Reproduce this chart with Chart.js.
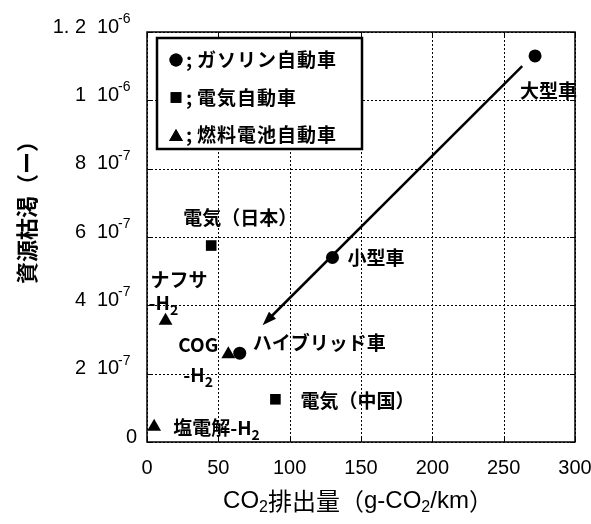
<!DOCTYPE html>
<html>
<head>
<meta charset="utf-8">
<script src="https://cdn.jsdelivr.net/npm/chart.js@4.4.1/dist/chart.umd.min.js"></script>
<style>
  html, body { margin: 0; padding: 0; background: #fff; }
  canvas { display: block; }
</style>
</head>
<body>
<canvas id="chart" width="591" height="524"></canvas>
<script>
// データ (CO2: g-CO2/km, 資源枯渇: 無次元)
const gasLabels = ['大型車', '小型車', 'ハイブリッド車'];
const gasCO2 = [272, 130, 65];
const gasDepletion = [1.13e-6, 5.4e-7, 2.6e-7];

const evLabels = ['電気（日本）', '電気（中国）'];
const evCO2 = [45, 90];
const evDepletion = [5.75e-7, 1.25e-7];

const fcLabels = ['ナフサ\n-H_2', 'COG\n-H_2', '塩電解-H_2'];
const fcCO2 = [13, 57, 5];
const fcDepletion = [3.55e-7, 2.57e-7, 0.45e-7];

const xTicks = [0, 50, 100, 150, 200, 250, 300];
const yTicks = [0, 2e-7, 4e-7, 6e-7, 8e-7, 1e-6, 1.2e-6];

const arrowFrom = [263, 1.10e-6];
const arrowTo = [81, 3.42e-7];

const legendLabels = ['ガソリン自動車', '電気自動車', '燃料電池自動車'];
const legendStyles = ['circle', 'rect', 'triangle'];

const JP = "'Noto Sans CJK JP', 'Liberation Sans', sans-serif";
const LAT = "'Liberation Sans', Arial, sans-serif";
const NUM = "'Liberation Sans Narrow', 'Liberation Sans', Arial, sans-serif";

// ラベルの位置 (点からのずれ, px)
const labelOffsets = {
    gas: [[-15, 35], [15, 0], [13, -10]],
    ev: [[-28, -28], [25, 1]],
    fc: [[-15, -41], [-50, -9], [19, 1]]
};

const toPoints = (xs, ys) => xs.map((x, i) => ({ x: x, y: ys[i] }));

// "H_2" の "_2" を下付きで描く
const drawRich = (ctx, str, x, y, size) => {
    const parts = str.split(/_(\d)/);
    let cx = x;
    parts.forEach((p, i) => {
        if (!p) return;
        const sub = i % 2 === 1;
        ctx.font = sub ? `bold ${Math.round(size * 0.72)}px ${JP}` : `bold ${size}px ${JP}`;
        ctx.fillText(p, cx, sub ? y + size * 0.35 : y);
        cx += ctx.measureText(p).width;
    });
};

const overlayPlugin = {
    id: 'overlay',
    beforeDatasetsDraw(chart) {
        // 点線のグリッド
        const { ctx, chartArea: a, scales } = chart;
        ctx.save();
        ctx.strokeStyle = '#000';
        ctx.lineWidth = 1;
        ctx.setLineDash([2, 2]);
        ctx.beginPath();
        xTicks.forEach(v => {
            const px = Math.round(scales.x.getPixelForValue(v)) + 0.5;
            ctx.moveTo(px, a.top); ctx.lineTo(px, a.bottom);
        });
        yTicks.forEach(v => {
            const py = Math.round(scales.y.getPixelForValue(v)) + 0.5;
            ctx.moveTo(a.left, py); ctx.lineTo(a.right, py);
        });
        ctx.stroke();
        ctx.restore();
    },
    afterDatasetsDraw(chart) {
        const { ctx, chartArea: a, scales } = chart;
        const xs = scales.x, ys = scales.y;
        ctx.save();

        // 枠と内向きの目盛り
        ctx.strokeStyle = '#000';
        ctx.lineWidth = 1.5;
        ctx.strokeRect(a.left, a.top, a.right - a.left, a.bottom - a.top);
        ctx.lineWidth = 1;
        ctx.beginPath();
        xTicks.forEach(v => {
            const px = Math.round(xs.getPixelForValue(v)) + 0.5;
            ctx.moveTo(px, a.bottom); ctx.lineTo(px, a.bottom - 5);
            ctx.moveTo(px, a.top); ctx.lineTo(px, a.top + 5);
        });
        yTicks.forEach(v => {
            const py = Math.round(ys.getPixelForValue(v)) + 0.5;
            ctx.moveTo(a.left, py); ctx.lineTo(a.left + 5, py);
            ctx.moveTo(a.right, py); ctx.lineTo(a.right - 5, py);
        });
        ctx.stroke();

        // 矢印
        const x1 = xs.getPixelForValue(arrowFrom[0]), y1 = ys.getPixelForValue(arrowFrom[1]);
        const x2 = xs.getPixelForValue(arrowTo[0]), y2 = ys.getPixelForValue(arrowTo[1]);
        const ang = Math.atan2(y2 - y1, x2 - x1);
        ctx.lineWidth = 2.5;
        ctx.beginPath();
        ctx.moveTo(x1, y1);
        ctx.lineTo(x2 - 8 * Math.cos(ang), y2 - 8 * Math.sin(ang));
        ctx.stroke();
        ctx.fillStyle = '#000';
        ctx.beginPath();
        ctx.moveTo(x2, y2);
        ctx.lineTo(x2 - 14 * Math.cos(ang) + 5 * Math.sin(ang), y2 - 14 * Math.sin(ang) - 5 * Math.cos(ang));
        ctx.lineTo(x2 - 14 * Math.cos(ang) - 5 * Math.sin(ang), y2 - 14 * Math.sin(ang) + 5 * Math.cos(ang));
        ctx.closePath();
        ctx.fill();

        // 点のラベル
        ctx.textBaseline = 'middle';
        ctx.textAlign = 'left';
        const labelSet = (labels, xv, yv, offs) => {
            labels.forEach((txt, i) => {
                const px = xs.getPixelForValue(xv[i]);
                const py = ys.getPixelForValue(yv[i]);
                txt.split('\n').forEach((line, j) => {
                    let dx = offs[i][0];
                    if (j > 0 && txt.startsWith('ナフサ')) dx -= 2;
                    if (j > 0 && txt.startsWith('COG')) dx += 5;
                    drawRich(ctx, line, px + dx, py + offs[i][1] + j * (txt.startsWith('COG') ? 30 : 23), 19);
                });
            });
        };
        labelSet(gasLabels, gasCO2, gasDepletion, labelOffsets.gas);
        labelSet(evLabels, evCO2, evDepletion, labelOffsets.ev);
        labelSet(fcLabels, fcCO2, fcDepletion, labelOffsets.fc);

        // 凡例
        const lx = a.left + 10, ly = a.top + 6, lw = 205, lh = 111;
        ctx.fillStyle = '#fff';
        ctx.fillRect(lx, ly, lw, lh);
        ctx.lineWidth = 2.5;
        ctx.strokeRect(lx, ly, lw, lh);
        ctx.fillStyle = '#000';
        legendLabels.forEach((txt, i) => {
            const cy = ly + 22 + i * 37.5;
            const st = legendStyles[i];
            Chart.helpers.drawPoint(ctx, {
                pointStyle: st, rotation: 0,
                radius: st === 'circle' ? 6.5 : (st === 'rect' ? 7.5 : 8), borderWidth: 0
            }, lx + 19, cy + (st === 'triangle' ? 2 : 0));
            ctx.fill();
            ctx.font = `bold 19px ${JP}`;
            ctx.fillText(';', lx + 29, cy);
            ctx.letterSpacing = '1px';
            ctx.fillText(txt, lx + 40, cy);
            ctx.letterSpacing = '0px';
        });

        // y 軸の目盛りラベル (a 10^n)
        yTicks.forEach(v => {
            const py = ys.getPixelForValue(v) - 5;
            ctx.font = `20px ${NUM}`;
            if (v === 0) {
                ctx.textAlign = 'right';
                ctx.fillText('0', 137, py);
                return;
            }
            const exp = Math.floor(Math.log10(v) + 1e-6);
            const mant = +(v / Math.pow(10, exp)).toPrecision(3);
            ctx.textAlign = 'right';
            ctx.fillText(String(mant).replace('.', '. '), 86, py);
            ctx.textAlign = 'left';
            ctx.fillText('10', 97, py);
            ctx.font = `14px ${NUM}`;
            ctx.fillText(String(exp), 118, py - 8);
        });

        // y 軸タイトル
        ctx.save();
        ctx.translate(27, 207);
        ctx.rotate(-Math.PI / 2);
        ctx.textAlign = 'center';
        ctx.font = `bold 22px ${JP}`;
        ctx.fillText('資源枯渇（ー）', 0, 0);
        ctx.restore();

        // x 軸タイトル
        const segs = [
            ['CO', `24px ${LAT}`, 0], ['2', `16px ${LAT}`, 7],
            ['排出量（', `24px ${JP}`, 0], ['g-CO', `24px ${LAT}`, 0],
            ['2', `16px ${LAT}`, 7], ['/km', `24px ${LAT}`, 0], ['）', `24px ${JP}`, 0]
        ];
        ctx.textAlign = 'left';
        let total = 0;
        segs.forEach(s => { ctx.font = s[1]; total += ctx.measureText(s[0]).width; });
        let cx = 358 - total / 2;
        segs.forEach(s => {
            ctx.font = s[1];
            ctx.fillText(s[0], cx, 501 + s[2]);
            cx += ctx.measureText(s[0]).width;
        });

        ctx.restore();
    }
};

new Chart(document.getElementById('chart'), {
    type: 'scatter',
    data: {
        datasets: [
            {
                label: 'ガソリン自動車',
                data: toPoints(gasCO2, gasDepletion),
                pointStyle: 'circle', pointRadius: 6.5,
                backgroundColor: '#000', borderColor: '#000', borderWidth: 0
            },
            {
                label: '電気自動車',
                data: toPoints(evCO2, evDepletion),
                pointStyle: 'rect', pointRadius: 7.5,
                backgroundColor: '#000', borderColor: '#000', borderWidth: 0
            },
            {
                label: '燃料電池自動車',
                data: toPoints(fcCO2, fcDepletion),
                pointStyle: 'triangle', pointRadius: 8,
                backgroundColor: '#000', borderColor: '#000', borderWidth: 0
            }
        ]
    },
    options: {
        responsive: false,
        animation: false,
        devicePixelRatio: 1,
        layout: { padding: { left: 0, top: 32, right: 16, bottom: 0 } },
        plugins: { legend: { display: false }, tooltip: { enabled: false } },
        scales: {
            x: {
                type: 'linear', min: 0, max: 300,
                afterBuildTicks: s => { s.ticks = xTicks.map(v => ({ value: v })); },
                afterFit: s => { s.height = 82; s.paddingLeft = 0; s.paddingRight = 0; },
                grid: { display: false, drawTicks: false },
                border: { display: false },
                ticks: { color: '#000', padding: 14, maxRotation: 0, font: { family: NUM, size: 20 } }
            },
            y: {
                type: 'linear', min: 0, max: 1.2e-6,
                afterBuildTicks: s => { s.ticks = yTicks.map(v => ({ value: v })); },
                afterFit: s => { s.width = 147; s.paddingTop = 0; s.paddingBottom = 0; },
                grid: { display: false, drawTicks: false },
                border: { display: false },
                ticks: { display: false }
            }
        }
    },
    plugins: [overlayPlugin]
});
</script>
</body>
</html>
